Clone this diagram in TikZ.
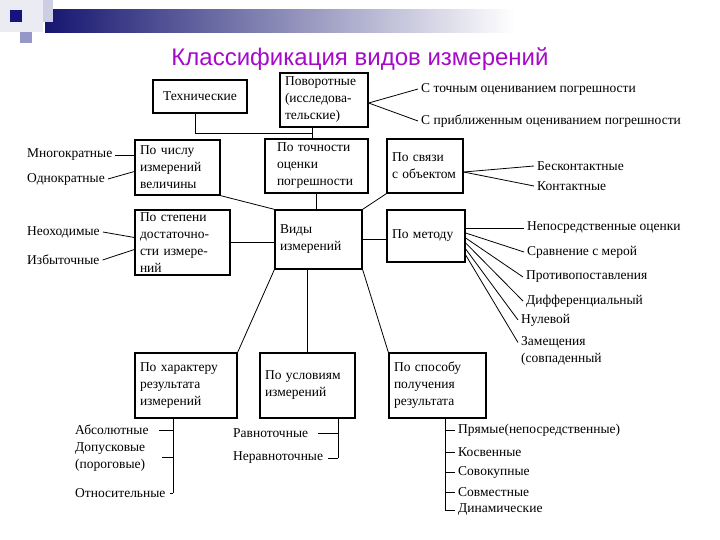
\documentclass[tikz,border=0pt]{standalone}
\usepackage{fontspec}
\setmainfont{Liberation Serif}
\newfontfamily\titlefont{Liberation Sans}
\definecolor{titlepurple}{RGB}{165,10,200}
\definecolor{bannerblue}{RGB}{22,22,112}
\definecolor{lavender}{RGB}{205,205,228}
\definecolor{midblue}{RGB}{150,150,200}

\begin{document}
\begin{tikzpicture}[x=1pt,y=-1pt,
  box/.style={draw, line width=1.3pt, align=left, inner xsep=5pt, inner ysep=2pt,
    font=\fontsize{13.5}{17}\selectfont},
  leaf/.style={inner sep=3pt, align=left, font=\fontsize{13.5}{17}\selectfont},
  link/.style={line width=0.8pt}]
  \useasboundingbox (0,0) rectangle (720,540);

  % banner
  \fill[lavender!40] (0,0) rectangle (43,32);
  \shade[left color=bannerblue, right color=white] (45,10) rectangle (515,33);
  \fill[lavender] (43,0) rectangle (53,22);
  \fill[bannerblue!90!blue] (10,10) rectangle (22,22);
  \fill[midblue] (20,32) rectangle (32,43);
  \node[font=\titlefont\fontsize{24}{29}\selectfont, text=titlepurple] (title) at (360,59)
    {Классификация видов измерений};

  % boxes
  \node[box, align=center, text width=84pt, minimum height=33pt] (tech) at (200,96.5) {Технические};
  \node[box, text width=78pt, minimum height=54pt] (povor) at (324,100) {Поворотные\\(исследова-\\тельские)};
  \node[box, inner xsep=12pt, text width=79pt, minimum height=54pt] (tochn) at (316.5,166)
    {По точности\\оценки\\погрешности};
  \node[box, text width=66pt, minimum height=54pt] (svyaz) at (425,166) {По связи\\с объектом};
  \node[box, text width=75pt, minimum height=55pt] (chislu) at (177.5,167.5) {По числу\\измерений\\величины};
  \node[box, text width=85pt, minimum height=65pt] (stepeni) at (182.5,242.5)
    {По степени\\достаточно-\\сти измере-\\ний};
  \node[box, text width=77pt, minimum height=59pt] (vidy) at (318.5,239.5) {Виды\\измерений\\[4pt]};
  \node[box, text width=68pt, minimum height=52pt] (metod) at (426,236) {По методу\\[6pt]};
  \node[box, text width=92pt, minimum height=65pt] (harakter) at (186,385.5)
    {По характеру\\результата\\измерений};
  \node[box, text width=85pt, minimum height=65pt] (usl) at (307.5,385.5) {По условиям\\измерений\\[10pt]};
  \node[box, text width=87pt, minimum height=65pt] (spos) at (437.5,385.5)
    {По способу\\получения\\результата};

  % top part
  \coordinate (jn) at (312,133);
  \draw[link] ([xshift=-5pt]tech.south) |- (jn);
  \draw[link] (povor.south -| jn) -- (tochn.north -| jn);
  \node[leaf, anchor=west] (acc1) at (418,89) {С точным оцениванием погрешности};
  \node[leaf, anchor=west] (acc2) at (418,121) {С приближенным оцениванием погрешности};
  \draw[link] ([yshift=-3pt]povor.east) -- (acc1.west);
  \draw[link] ([yshift=-3pt]povor.east) -- (acc2.west);

  % around the centre
  \draw[link] (tochn.south) -- (tochn.south |- vidy.north);
  \draw[link] (chislu.south east) -- (vidy.north west);
  \draw[link] (svyaz.south west) -- (vidy.north east);
  \draw[link] (stepeni.east) -- (stepeni.east -| vidy.west);
  \draw[link] (vidy.east) -- (vidy.east -| metod.west);
  \draw[link] (vidy.south west) -- (harakter.north east);
  \draw[link] (usl.north) -- (usl.north |- vidy.south);
  \draw[link] (vidy.south east) -- (spos.north west);

  % left
  \node[leaf, anchor=west] (mnogo) at (24,155) {Многократные};
  \node[leaf, anchor=west] (odno) at (24,179) {Однократные};
  \node[leaf, anchor=west] (neob) at (24,232) {Неоходимые};
  \node[leaf, anchor=west] (izb) at (24,260) {Избыточные};
  \draw[link] (mnogo.east) -- (mnogo.east -| chislu.west);
  \draw[link] (odno.east) -- ([yshift=-4pt]chislu.west);
  \draw[link] (neob.east) -- ([yshift=5pt]stepeni.west);
  \draw[link] (izb.east) -- ([yshift=-7pt]stepeni.west);

  % right
  \node[leaf, anchor=west] (bes) at (534,166) {Бесконтактные};
  \node[leaf, anchor=west] (kont) at (534,186) {Контактные};
  \draw[link] ([yshift=-6pt]svyaz.east) -- (bes.west);
  \draw[link] ([yshift=-6pt]svyaz.east) -- (kont.west);

  \node[leaf, anchor=west] (nep) at (524,228) {Непосредственные оценки};
  \node[leaf, anchor=west] (srav) at (524,252) {Сравнение с мерой};
  \node[leaf, anchor=west] (prot) at (523,277) {Противопоставления};
  \node[leaf, anchor=west] (diff) at (523,301) {Дифференциальный};
  \node[leaf, anchor=west] (nul) at (518,320) {Нулевой};
  \node[leaf, anchor=west] (zam) at (518,350.5) {Замещения\\(совпаденный};
  \draw[link] (nep.west -| metod.east) -- (nep.west);
  \foreach \nm/\dy in {srav/3,prot/-2,diff/-7,nul/-13}
    \draw[link] ([yshift=\dy pt]metod.east) -- (\nm.west);
  \draw[link] ([yshift=-19pt]metod.east) -- ([yshift=8pt]zam.west);

  % bottom left
  \coordinate (st1) at ([xshift=-13pt]harakter.south);
  \node[leaf, anchor=west] (abs) at (72,430) {Абсолютные};
  \node[leaf, anchor=west] (dop) at (72,457) {Допусковые\\(пороговые)};
  \node[leaf, anchor=west] (otn) at (72,493) {Относительные};
  \draw[link] (st1) -- (st1 |- otn.east);
  \draw[link] (abs.east -| st1) -- ([xshift=7pt]abs.east);
  \draw[link] (dop.east -| st1) -- ([xshift=14pt]dop.east);
  \draw[link] (otn.east -| st1) -- ([xshift=1pt]otn.east);

  % bottom middle
  \coordinate (st2) at ([xshift=30.5pt]usl.south);
  \node[leaf, anchor=west] (rav) at (230,433) {Равноточные};
  \node[leaf, anchor=west] (nerav) at (230,458) {Неравноточные};
  \draw[link] (st2) -- (st2 |- nerav.east);
  \draw[link] (rav.east -| st2) -- ([xshift=7pt]rav.east);
  \draw[link] (nerav.east -| st2) -- ([xshift=2pt]nerav.east);

  % bottom right
  \coordinate (st3) at ([xshift=7.5pt]spos.south);
  \foreach \t/\y [count=\i] in {Прямые(непосредственные)/430,Косвенные/452,
      Совокупные/472,Совместные/492,Динамические/510}{
    \node[leaf, anchor=west] (sp\i) at (455,\y) {\t};
    \draw[link] (sp\i.west -| st3) -- (sp\i.west);
  }
  \draw[link] (st3) -- (st3 |- sp5.west);
\end{tikzpicture}
\end{document}
